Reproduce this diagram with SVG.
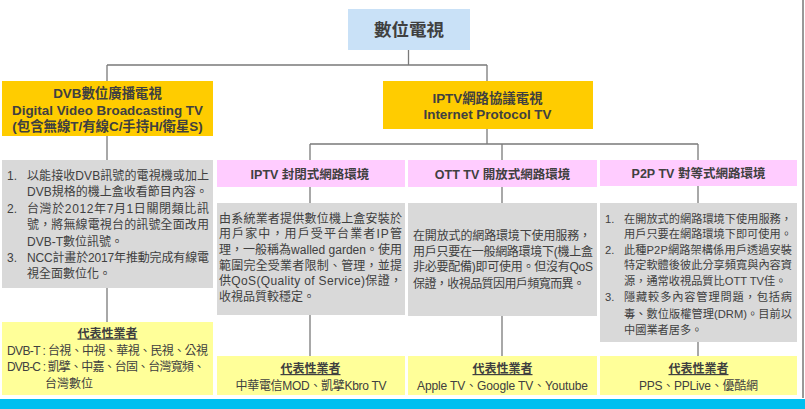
<svg xmlns="http://www.w3.org/2000/svg" width="805" height="409" viewBox="0 0 805 409">
<style>
text{font-family:"Liberation Sans","Noto Sans CJK TC",sans-serif;fill:#404040}
.h{font-weight:bold;font-size:13.4px;text-anchor:middle}
.t{font-weight:bold;font-size:17.5px;text-anchor:middle}
.ph{font-weight:bold;font-size:12.5px;text-anchor:middle}
.b{font-size:12px}
.s{font-size:11.2px}
.r{font-weight:bold;font-size:12px;text-anchor:middle;text-decoration:underline}
.c{font-size:12px;text-anchor:middle}
.blue{fill:#c9e1f7}
.yel{fill:#ffcc00}
.pink{fill:#ffccff}
.gray{fill:#d9d9d9}
.ly{fill:#ffff99}
.con{stroke:#7a7a7a;stroke-width:1.3;fill:none}
</style>
<rect x="0" y="0" width="805" height="409" fill="#ffffff"/>
<g id="connectors" class="con">
<path d="M408.5 50V65M107 65H487M107 65V81M487 65V81"/>
<path d="M107 136V160M107 288V322"/>
<path d="M487 129V144M310 144H698M310 144V160M502 144V160M698 144V160"/>
<path d="M310 187V203M502 187V203M698 186V203"/>
<path d="M310 315V356M502 316V356M698 342V356"/>
</g>
<g id="root">
<rect class="blue" x="348" y="9" width="122" height="41"/>
<text class="t" x="409" y="36">數位電視</text>
</g>
<g id="dvb">
<rect class="yel" x="2" y="81" width="211" height="55"/>
<text class="h" x="107.5" y="98">DVB數位廣播電視</text>
<text class="h" x="107.5" y="114.5">Digital Video Broadcasting TV</text>
<text class="h" x="107.5" y="131">(包含無線T/有線C/手持H/衛星S)</text>
</g>
<g id="dvb-desc">
<rect class="gray" x="2" y="160" width="211" height="128"/>
<text class="b" x="7" y="179.5">1.</text>
<text class="b" x="27" y="179.5" textLength="182" lengthAdjust="spacing">以能接收DVB訊號的電視機或加上</text>
<text class="b" x="27" y="196">DVB規格的機上盒收看節目內容。</text>
<text class="b" x="7" y="212.5">2.</text>
<text class="b" x="27" y="212.5" textLength="182" lengthAdjust="spacing">台灣於2012年7月1日關閉類比訊</text>
<text class="b" x="27" y="229" textLength="182" lengthAdjust="spacing">號，將無線電視台的訊號全面改用</text>
<text class="b" x="27" y="245.5">DVB-T數位訊號。</text>
<text class="b" x="7" y="262">3.</text>
<text class="b" x="27" y="262" textLength="182" lengthAdjust="spacing">NCC計畫於2017年推動完成有線電</text>
<text class="b" x="27" y="278">視全面數位化。</text>
</g>
<g id="dvb-vendors">
<rect class="ly" x="2" y="322" width="211" height="73"/>
<text class="r" x="107.5" y="337.5">代表性業者</text>
<text class="b" x="7" y="354.5" textLength="201" lengthAdjust="spacing">DVB-T : 台視、中視、華視、民視、公視</text>
<text class="b" x="7" y="371" textLength="198" lengthAdjust="spacing">DVB-C : 凱擘、中嘉、台固、台灣寬頻、</text>
<text class="b" x="45" y="387.5">台灣數位</text>
</g>
<g id="iptv">
<rect class="yel" x="383" y="81" width="210" height="48"/>
<text class="h" x="487.5" y="103">IPTV網路協議電視</text>
<text class="h" x="487.5" y="118.5">Internet Protocol TV</text>
</g>
<g id="iptv-closed">
<rect class="pink" x="217" y="160" width="188" height="27"/>
<text class="ph" x="310" y="178.5">IPTV 封閉式網路環境</text>
</g>
<g id="iptv-closed-desc">
<rect class="gray" x="217" y="203" width="188" height="112"/>
<text class="b" x="219" y="222.5" textLength="183" lengthAdjust="spacing">由系統業者提供數位機上盒安裝於</text>
<text class="b" x="219" y="238.3" textLength="183" lengthAdjust="spacing">用戶家中，用戶受平台業者IP管</text>
<text class="b" x="219" y="254" textLength="183" lengthAdjust="spacing">理，一般稱為walled garden。使用</text>
<text class="b" x="219" y="269.7" textLength="183" lengthAdjust="spacing">範圍完全受業者限制、管理，並提</text>
<text class="b" x="219" y="285.4" textLength="183" lengthAdjust="spacing">供QoS(Quality of Service)保證，</text>
<text class="b" x="219" y="301">收視品質較穩定。</text>
</g>
<g id="iptv-closed-vendors">
<rect class="ly" x="217" y="356" width="188" height="39"/>
<text class="r" x="310.5" y="373">代表性業者</text>
<text class="c" x="311" y="389.5" textLength="151" lengthAdjust="spacing">中華電信MOD、凱擘Kbro TV</text>
</g>
<g id="ott">
<rect class="pink" x="408" y="160" width="189" height="27"/>
<text class="ph" x="502.5" y="178.5">OTT TV 開放式網路環境</text>
</g>
<g id="ott-desc">
<rect class="gray" x="408" y="203" width="189" height="113"/>
<text class="b" x="413" y="239.5" textLength="178" lengthAdjust="spacing">在開放式的網路環境下使用服務，</text>
<text class="b" x="413" y="255.5" textLength="180" lengthAdjust="spacing">用戶只要在一般網路環境下(機上盒</text>
<text class="b" x="413" y="271.3" textLength="180" lengthAdjust="spacing">非必要配備)即可使用。但沒有QoS</text>
<text class="b" x="413" y="287.5" textLength="172" lengthAdjust="spacing">保證，收視品質因用戶頻寬而異。</text>
</g>
<g id="ott-vendors">
<rect class="ly" x="408" y="356" width="189" height="39"/>
<text class="r" x="502.5" y="373">代表性業者</text>
<text class="c" x="502.5" y="389.5" textLength="171" lengthAdjust="spacing">Apple TV、Google TV、Youtube</text>
</g>
<g id="p2p">
<rect class="pink" x="600" y="160" width="197" height="26"/>
<text class="ph" x="698.5" y="178">P2P TV 對等式網路環境</text>
</g>
<g id="p2p-desc">
<rect class="gray" x="600" y="203" width="197" height="139"/>
<text class="s" x="605" y="222.5">1.</text>
<text class="s" x="624" y="222.5" textLength="168" lengthAdjust="spacing">在開放式的網路環境下使用服務，</text>
<text class="s" x="624" y="237.8">用戶只要在網路環境下即可使用。</text>
<text class="s" x="605" y="253.5">2.</text>
<text class="s" x="624" y="253.5" textLength="168" lengthAdjust="spacing">此種P2P網路架構係用戶透過安裝</text>
<text class="s" x="624" y="269.3" textLength="168" lengthAdjust="spacing">特定軟體後彼此分享頻寬與內容資</text>
<text class="s" x="624" y="285">源，通常收視品質比OTT TV佳。</text>
<text class="s" x="605" y="301">3.</text>
<text class="s" x="624" y="301" textLength="168" lengthAdjust="spacing">隱藏較多內容管理問題，包括病</text>
<text class="s" x="624" y="317.5" textLength="168" lengthAdjust="spacing">毒、數位版權管理(DRM)。目前以</text>
<text class="s" x="624" y="334">中國業者居多。</text>
</g>
<g id="p2p-vendors">
<rect class="ly" x="600" y="356" width="197" height="39"/>
<text class="r" x="698.5" y="373">代表性業者</text>
<text class="c" x="698.5" y="389.5" textLength="119" lengthAdjust="spacing">PPS、PPLive、優酷網</text>
</g>
<line x1="803" y1="0" x2="803" y2="398" stroke="#333333" stroke-width="1"/>
<rect x="0" y="399" width="805" height="10" fill="#00bff0"/>
</svg>
